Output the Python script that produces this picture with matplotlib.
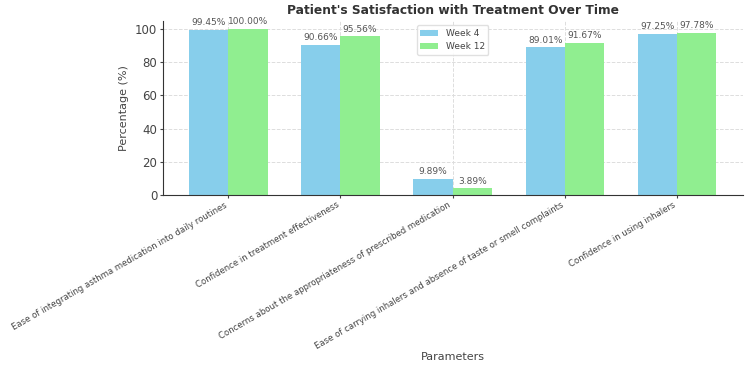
import numpy as np
import matplotlib.pyplot as plt

parametros = [
    'Ease of integrating asthma medication into daily routines',
    'Confidence in treatment effectiveness',
    'Concerns about the appropriateness of prescribed medication',
    'Ease of carrying inhalers and absence of taste or smell complaints',
    'Confidence in using inhalers',
]
semana4 = [99.45, 90.66, 9.89, 89.01, 97.25]
semana12 = [100.00, 95.56, 3.89, 91.67, 97.78]

cor_texto = '#444444'
plt.rcParams['text.color'] = cor_texto
plt.rcParams['axes.labelcolor'] = cor_texto
plt.rcParams['xtick.color'] = cor_texto
plt.rcParams['ytick.color'] = cor_texto

fig = plt.figure(figsize=(7.5, 3.72), dpi=100)
ax = fig.add_axes([0.217, 0.476, 0.773, 0.468])

x = np.arange(len(parametros))
largura = 0.35
b1 = ax.bar(x - largura / 2, semana4, largura, color='skyblue', label='Week 4', zorder=2)
b2 = ax.bar(x + largura / 2, semana12, largura, color='lightgreen', label='Week 12', zorder=2)

for barras in (b1, b2):
    for barra in barras:
        altura = barra.get_height()
        ax.annotate(f'{altura:.2f}%', (barra.get_x() + barra.get_width() / 2, altura),
                    xytext=(0, 2), textcoords='offset points',
                    ha='center', va='bottom', fontsize=6.5, color='#555555')

ax.set_title("Patient's Satisfaction with Treatment Over Time", fontsize=8.8,
             fontweight='bold', color='#333333', pad=5)
ax.set_xlabel('Parameters', fontsize=8)
ax.xaxis.set_label_coords(0.5, -0.905)
ax.set_ylabel('Percentage (%)', fontsize=8, labelpad=4)
ax.set_xticks(x)
ax.set_xticklabels(parametros, rotation=30, ha='right', fontsize=6.1)
ax.tick_params(axis='y', labelsize=8.5, length=2, pad=2)
ax.tick_params(axis='x', length=2, pad=2)
ax.set_ylim(0, 105)
ax.set_yticks([0, 20, 40, 60, 80, 100])
ax.grid(True, linestyle='--', color='#dddddd', linewidth=0.7, zorder=0)
ax.spines['top'].set_visible(False)
ax.spines['right'].set_visible(False)
ax.spines['left'].set_color('#333333')
ax.spines['bottom'].set_color('#333333')
ax.legend(loc='upper center', fontsize=6.5, framealpha=0.9, edgecolor='#dddddd')

fig.savefig('out.png', dpi=100)
